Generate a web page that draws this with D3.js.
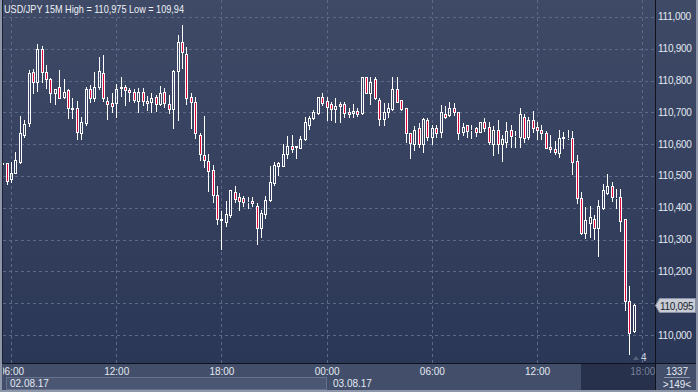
<!DOCTYPE html>
<html><head><meta charset="utf-8">
<script src="https://cdn.jsdelivr.net/npm/d3@7"></script>
<style>html,body{margin:0;padding:0;background:#2d3a58;overflow:hidden}</style>
</head><body>
<svg id="c" width="698" height="392"></svg>
<script>
const titleText = "USD/JPY 15M  High = 110,975 Low = 109,94";
const startTime = new Date(2017, 7, 2, 5, 30);
const stepMinutes = 15;
const opens = [110.537,110.540,110.490,110.509,110.544,110.628,110.666,110.827,110.795,110.899,
110.827,110.805,110.761,110.780,110.748,110.770,110.713,110.713,110.635,110.666,
110.773,110.745,110.780,110.823,110.735,110.729,110.729,110.776,110.780,110.770,
110.764,110.735,110.764,110.735,110.732,110.748,110.726,110.764,110.726,110.710,
110.830,110.921,110.883,110.748,110.732,110.628,110.566,110.547,110.518,110.440,
110.364,110.355,110.377,110.449,110.434,110.430,110.419,110.421,110.405,110.336,
110.380,110.424,110.478,110.531,110.531,110.569,110.594,110.591,110.588,110.616,
110.660,110.682,110.698,110.748,110.735,110.726,110.710,110.726,110.726,110.701,
110.698,110.704,110.698,110.811,110.761,110.805,110.739,110.679,110.701,110.710,
110.773,110.739,110.713,110.635,110.600,110.651,110.600,110.676,110.622,110.651,
110.638,110.695,110.691,110.713,110.701,110.638,110.660,110.644,110.651,110.638,
110.669,110.654,110.600,110.644,110.600,110.606,110.644,110.625,110.622,110.685,
110.622,110.676,110.654,110.644,110.635,110.591,110.584,110.572,110.619,110.619,
110.619,110.547,110.430,110.320,110.352,110.364,110.336,110.399,110.446,110.468,
110.431,110.434,110.364,110.107,110.012];
const highs = [110.550,110.540,110.544,110.575,110.688,110.676,110.833,110.836,110.915,110.908,
110.849,110.808,110.773,110.833,110.805,110.773,110.745,110.735,110.685,110.780,
110.786,110.827,110.874,110.880,110.748,110.761,110.789,110.811,110.786,110.776,
110.773,110.776,110.776,110.751,110.761,110.754,110.783,110.776,110.754,110.833,
110.943,110.975,110.905,110.761,110.748,110.635,110.688,110.569,110.534,110.468,
110.389,110.421,110.456,110.468,110.446,110.437,110.434,110.434,110.415,110.393,
110.437,110.531,110.544,110.544,110.600,110.625,110.628,110.594,110.625,110.685,
110.688,110.707,110.748,110.761,110.748,110.732,110.745,110.732,110.732,110.713,
110.726,110.713,110.811,110.811,110.811,110.811,110.745,110.729,110.729,110.811,
110.811,110.739,110.713,110.635,110.657,110.666,110.682,110.682,110.660,110.660,
110.723,110.720,110.732,110.729,110.701,110.666,110.660,110.660,110.654,110.669,
110.682,110.669,110.657,110.676,110.628,110.669,110.660,110.641,110.713,110.695,
110.685,110.704,110.669,110.660,110.641,110.628,110.610,110.644,110.638,110.644,
110.641,110.566,110.449,110.402,110.405,110.377,110.424,110.474,110.506,110.481,
110.459,110.459,110.364,110.154,110.097];
const lows = [110.531,110.474,110.481,110.509,110.540,110.622,110.657,110.761,110.767,110.795,
110.777,110.732,110.726,110.744,110.745,110.682,110.682,110.616,110.616,110.660,
110.732,110.735,110.773,110.735,110.679,110.701,110.685,110.751,110.723,110.735,
110.732,110.701,110.723,110.707,110.701,110.704,110.723,110.717,110.698,110.651,
110.676,110.839,110.726,110.651,110.619,110.550,110.528,110.452,110.418,110.349,
110.270,110.342,110.371,110.418,110.393,110.405,110.399,110.405,110.286,110.308,
110.368,110.421,110.471,110.503,110.531,110.556,110.575,110.556,110.588,110.613,
110.647,110.679,110.695,110.723,110.676,110.676,110.669,110.669,110.685,110.685,
110.685,110.688,110.695,110.761,110.726,110.742,110.660,110.660,110.685,110.707,
110.732,110.707,110.606,110.556,110.581,110.591,110.575,110.613,110.600,110.622,
110.622,110.682,110.688,110.691,110.616,110.628,110.622,110.619,110.625,110.638,
110.641,110.600,110.566,110.572,110.547,110.591,110.591,110.591,110.591,110.606,
110.616,110.638,110.616,110.616,110.588,110.575,110.569,110.559,110.588,110.616,
110.506,110.415,110.317,110.305,110.308,110.302,110.248,110.396,110.443,110.421,
110.399,110.327,110.078,109.940,110.009];
const closes = [110.540,110.484,110.509,110.550,110.635,110.663,110.823,110.795,110.899,110.827,
110.805,110.761,110.773,110.745,110.764,110.713,110.710,110.638,110.669,110.773,
110.745,110.780,110.830,110.745,110.726,110.720,110.773,110.780,110.770,110.764,
110.739,110.764,110.735,110.729,110.745,110.726,110.761,110.729,110.710,110.830,
110.921,110.890,110.745,110.732,110.635,110.569,110.550,110.515,110.440,110.364,
110.360,110.380,110.456,110.427,110.421,110.418,110.419,110.415,110.336,110.383,
110.424,110.481,110.534,110.540,110.569,110.594,110.584,110.594,110.616,110.669,
110.682,110.701,110.748,110.729,110.717,110.710,110.720,110.720,110.698,110.695,
110.704,110.695,110.811,110.761,110.795,110.745,110.679,110.701,110.713,110.773,
110.732,110.710,110.635,110.603,110.644,110.600,110.679,110.622,110.651,110.635,
110.701,110.685,110.713,110.701,110.635,110.654,110.641,110.644,110.638,110.669,
110.651,110.606,110.644,110.600,110.616,110.641,110.625,110.625,110.695,110.619,
110.676,110.651,110.644,110.635,110.588,110.584,110.575,110.619,110.622,110.619,
110.544,110.430,110.320,110.361,110.371,110.336,110.405,110.456,110.468,110.434,
110.431,110.358,110.107,110.006,110.095];
const priceTicks = [110.0,110.1,110.2,110.3,110.4,110.5,110.6,110.7,110.8,110.9,111.0];
const timeTicks = [new Date(2017,7,2,6), new Date(2017,7,2,12), new Date(2017,7,2,18),
  new Date(2017,7,3,0), new Date(2017,7,3,6), new Date(2017,7,3,12), new Date(2017,7,3,18)];
const dateLabels = [{d: new Date(2017,7,2,0), t:"02.08.17"}, {d: new Date(2017,7,3,0), t:"03.08.17"}];
const lastPrice = 110.095;
const barCount = "1337";
const zoomText = ">149<";
const markerText = "4";

const candles = opens.map((o,i)=>({
  t: new Date(startTime.getTime() + i*stepMinutes*60000),
  o, h: highs[i], l: lows[i], c: closes[i]
}));

const W=698, H=392;
const plotL=3, plotR=655, plotT=0, plotB=363;
const svg = d3.select("#c");
const font = "'Liberation Sans', Arial, sans-serif";
const fmt = v => d3.format(".3f")(v).replace(".",",");

const x = d3.scaleTime().domain([new Date(2017,7,2,6), new Date(2017,7,3,18)]).range([11, 642.3]);
const y = d3.scaleLinear().domain([110.0, 111.0]).range([335, 16.9]);

const defs = svg.append("defs");
const g1 = defs.append("linearGradient").attr("id","bg").attr("x1",0).attr("y1",0).attr("x2",0).attr("y2",1);
g1.append("stop").attr("offset","0%").attr("stop-color","#3e4a66");
g1.append("stop").attr("offset","100%").attr("stop-color","#2b3756");
defs.append("clipPath").attr("id","plotclip").append("rect")
  .attr("x",plotL).attr("y",plotT).attr("width",plotR-plotL).attr("height",plotB-plotT);
defs.append("clipPath").attr("id","axclip").append("rect")
  .attr("x",plotL).attr("y",plotB).attr("width",plotR-plotL).attr("height",H-plotB);

// backgrounds
svg.append("rect").attr("x",0).attr("y",0).attr("width",W).attr("height",H).attr("fill","#434f6a");
svg.append("rect").attr("x",plotL).attr("y",plotT).attr("width",W-plotL).attr("height",plotB-plotT).attr("fill","url(#bg)");

// grid
const grid = svg.append("g").attr("clip-path","url(#plotclip)");
grid.selectAll("line.h").data(priceTicks).join("line")
  .attr("x1",plotL).attr("x2",plotR)
  .attr("y1",d=>Math.round(y(d))+0.5).attr("y2",d=>Math.round(y(d))+0.5)
  .attr("stroke","#5c6987").attr("stroke-dasharray","3,3");
grid.selectAll("line.v").data(timeTicks).join("line")
  .attr("y1",plotT).attr("y2",plotB)
  .attr("x1",d=>Math.round(x(d))+0.5).attr("x2",d=>Math.round(x(d))+0.5)
  .attr("stroke","#5c6987").attr("stroke-dasharray","3,3");

// candles
const cg = svg.append("g").attr("clip-path","url(#plotclip)");
candles.forEach(d=>{
  const cx = Math.round(x(d.t));
  const top = Math.round(y(Math.max(d.o,d.c)));
  const bot = Math.round(y(Math.min(d.o,d.c)));
  const hi = Math.round(y(d.h)), lo = Math.round(y(d.l));
  const bear = d.c < d.o;
  if (hi < top) cg.append("line").attr("x1",cx+0.5).attr("x2",cx+0.5).attr("y1",hi).attr("y2",top).attr("stroke","#ffffff");
  if (lo > bot) cg.append("line").attr("x1",cx+0.5).attr("x2",cx+0.5).attr("y1",bot+1).attr("y2",lo+1).attr("stroke","#ffffff");
  cg.append("rect").attr("x",cx-0.5).attr("y",top+0.5).attr("width",2).attr("height",Math.max(0,bot-top))
    .attr("fill", bear ? "#e0073c" : "none").attr("stroke","#ffffff").attr("stroke-width",1)
    .attr("shape-rendering","crispEdges");
});

// separators
svg.append("rect").attr("x",plotR).attr("y",0).attr("width",1).attr("height",H).attr("fill","#0e121c");
svg.append("rect").attr("x",0).attr("y",plotB).attr("width",W).attr("height",1).attr("fill","#0e121c");

// time axis dark future region
svg.append("rect").attr("x",581).attr("y",plotB+1).attr("width",plotR-581).attr("height",H-plotB-3).attr("fill","#27314b");

// date row boxes
const dateBoxes = [{x0:6, x1:326, t:dateLabels[0].t}, {x0:329, x1:580, t:dateLabels[1].t}];
dateBoxes.forEach((b,i)=>{
  svg.append("rect").attr("x",b.x0+0.5).attr("y",377.5).attr("width",b.x1-b.x0).attr("height",12)
    .attr("fill", i===0 ? "#4b5772" : "none").attr("stroke", i===0 ? "#66728c" : "none");
  svg.append("text").attr("x",b.x0+4).attr("y",387).attr("fill","#e4e9f2")
    .attr("font-family",font).attr("font-size","10px").text(b.t);
});

// time labels
const tl = svg.append("g").attr("clip-path","url(#axclip)");
tl.selectAll("text").data(timeTicks).join("text")
  .attr("x",d=>x(d)+0.5).attr("y",374.5).attr("text-anchor","middle")
  .attr("fill",(d,i)=> i===timeTicks.length-1 ? "#76809a" : "#e4e9f2")
  .attr("font-family",font).attr("font-size","10px")
  .text(d3.timeFormat("%H:%M"));

// price labels (the one hidden by the last-price tag is skipped)
const ly = Math.round(y(lastPrice));
svg.selectAll("text.p").data(priceTicks.filter(d=>Math.abs(y(d)-ly)>10)).join("text").attr("class","p")
  .attr("x",658).attr("y",d=>y(d)+3.5)
  .attr("fill","#e4e9f2").attr("font-family",font).attr("font-size","10px")
  .attr("letter-spacing","-0.25px")
  .text(fmt);

// last price tag
svg.append("path").attr("d",`M${655.5},${ly+0.5} L${659.5},${ly-6.5} L${695.5},${ly-6.5} L${695.5},${ly+7.5} L${659.5},${ly+7.5} Z`)
  .attr("fill","#c8ccd6").attr("stroke","#8a92a4");
svg.append("text").attr("x",660).attr("y",ly+4.5).attr("fill","#1b1f2a")
  .attr("font-family",font).attr("font-size","10px").attr("letter-spacing","-0.3px").text(fmt(lastPrice));

// corner info
svg.append("text").attr("x",677).attr("y",375).attr("text-anchor","middle").attr("fill","#e4e9f2")
  .attr("font-family",font).attr("font-size","10px").text(barCount);
svg.append("line").attr("x1",664).attr("x2",690).attr("y1",377.5).attr("y2",377.5).attr("stroke","#8a94a8");
svg.append("text").attr("x",677).attr("y",388).attr("text-anchor","middle").attr("fill","#e4e9f2")
  .attr("font-family",font).attr("font-size","10px").text(zoomText);

// marker
svg.append("path").attr("d","M633,360 L636,356 L639,360 Z").attr("fill","#56617a");
svg.append("text").attr("x",641).attr("y",361).attr("fill","#d0d6e2")
  .attr("font-family",font).attr("font-size","10px").text(markerText);

// title
svg.append("text").attr("x",4).attr("y",13).attr("fill","#eef1f6")
  .attr("font-family",font).attr("font-size","10.5px")
  .attr("textLength",180).attr("lengthAdjust","spacingAndGlyphs").text(titleText);

// frame
svg.append("rect").attr("x",0).attr("y",0).attr("width",2).attr("height",H).attr("fill","#8e97a9");
svg.append("rect").attr("x",2).attr("y",0).attr("width",1).attr("height",plotB).attr("fill","#1a2030");
svg.append("rect").attr("x",0).attr("y",H-2).attr("width",W).attr("height",2).attr("fill","#8e97a9");
svg.append("rect").attr("x",W-2).attr("y",0).attr("width",2).attr("height",H).attr("fill","#8e97a9");
</script>
</body></html>
